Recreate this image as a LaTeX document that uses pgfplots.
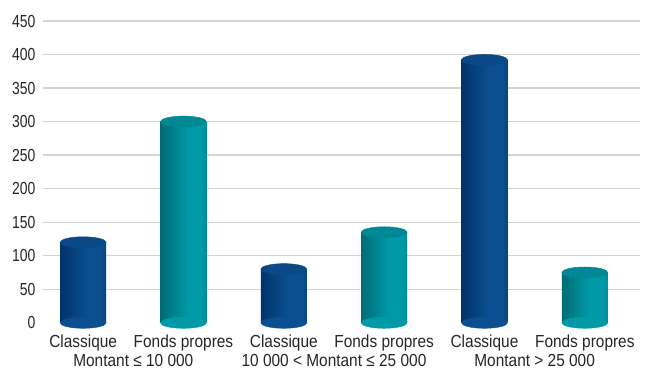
\documentclass[border=0pt]{standalone}
\usepackage{fontspec}
\setmainfont{Liberation Sans}[FakeStretch=0.885]
\newfontfamily\ytickfont{Liberation Sans}[FakeStretch=0.80]
\usepackage{pgfplots}
\pgfplotsset{compat=1.18}
\definecolor{gridc}{HTML}{D4D4D4}
\definecolor{txt}{HTML}{262626}
\definecolor{bA}{HTML}{00346A}
\definecolor{bB}{HTML}{0B4F90}
\definecolor{bC}{HTML}{074383}
\definecolor{bTop}{HTML}{0A4886}
\definecolor{tA}{HTML}{006C76}
\definecolor{tB}{HTML}{0099A7}
\definecolor{tC}{HTML}{008A97}
\definecolor{tTop}{HTML}{008995}
\pgfdeclarehorizontalshading{cylblue}{100bp}{color(0bp)=(bA); color(25bp)=(bA); color(55bp)=(bB); color(70bp)=(bB); color(75bp)=(bC); color(100bp)=(bC)}
\pgfdeclarehorizontalshading{cylteal}{100bp}{color(0bp)=(tA); color(25bp)=(tA); color(55bp)=(tB); color(70bp)=(tB); color(75bp)=(tC); color(100bp)=(tC)}
\pgfplotsset{
  cylb/.style={ybar, bar width=46bp, bar shift=0pt, draw=none, shading=cylblue},
  cylt/.style={ybar, bar width=46bp, bar shift=0pt, draw=none, shading=cylteal},
  ell/.style={only marks, mark=*, mark size=23bp, color=#1, mark options={yscale=0.24}},
}
\begin{document}
\begin{tikzpicture}
\useasboundingbox (0,0) rectangle (646bp,370bp);
\begin{axis}[
  at={(43bp,47.2bp)}, anchor=south west,
  scale only axis, width=597bp, height=301.8bp,
  xmin=-0.4, xmax=5.55, ymin=0, ymax=450,
  axis line style={draw=none},
  ytick={50,100,...,450},
  extra y ticks={0}, extra y tick style={grid=none},
  ymajorgrids, grid style={gridc, line width=1.3pt},
  major tick length=0pt,
  xtick={0,1,2,3,4,5},
  xticklabels={Classique,Fonds propres,Classique,Fonds propres,Classique,Fonds propres},
  extra x ticks={0.5,2.5,4.5},
  extra x tick labels={Montant ≤ 10 000, 10 000 < Montant ≤ 25 000, Montant > 25 000},
  extra x tick style={tick label style={yshift=-20bp}},
  tick label style={font=\fontsize{17.5}{20}\selectfont, text=txt},
  yticklabel style={font=\fontsize{17.5}{20}\ytickfont, xshift=-4bp},
  /pgf/number format/assume math mode=true,
  xticklabel style={yshift=-8.5bp},
  clip=false,
]
% bottom ellipses
\addplot[ell=bB] coordinates {(0,0) (2,0) (4,0)};
\addplot[ell=tB] coordinates {(1,0) (3,0) (5,0)};
% bodies
\addplot[cylb] coordinates {(0,120)};
\addplot[cylt] coordinates {(1,300)};
\addplot[cylb] coordinates {(2,80)};
\addplot[cylt] coordinates {(3,135)};
\addplot[cylb] coordinates {(4,392)};
\addplot[cylt] coordinates {(5,75)};
% top ellipses
\addplot[ell=bTop] coordinates {(0,120) (2,80) (4,392)};
\addplot[ell=tTop] coordinates {(1,300) (3,135) (5,75)};
\end{axis}
\end{tikzpicture}
\end{document}
